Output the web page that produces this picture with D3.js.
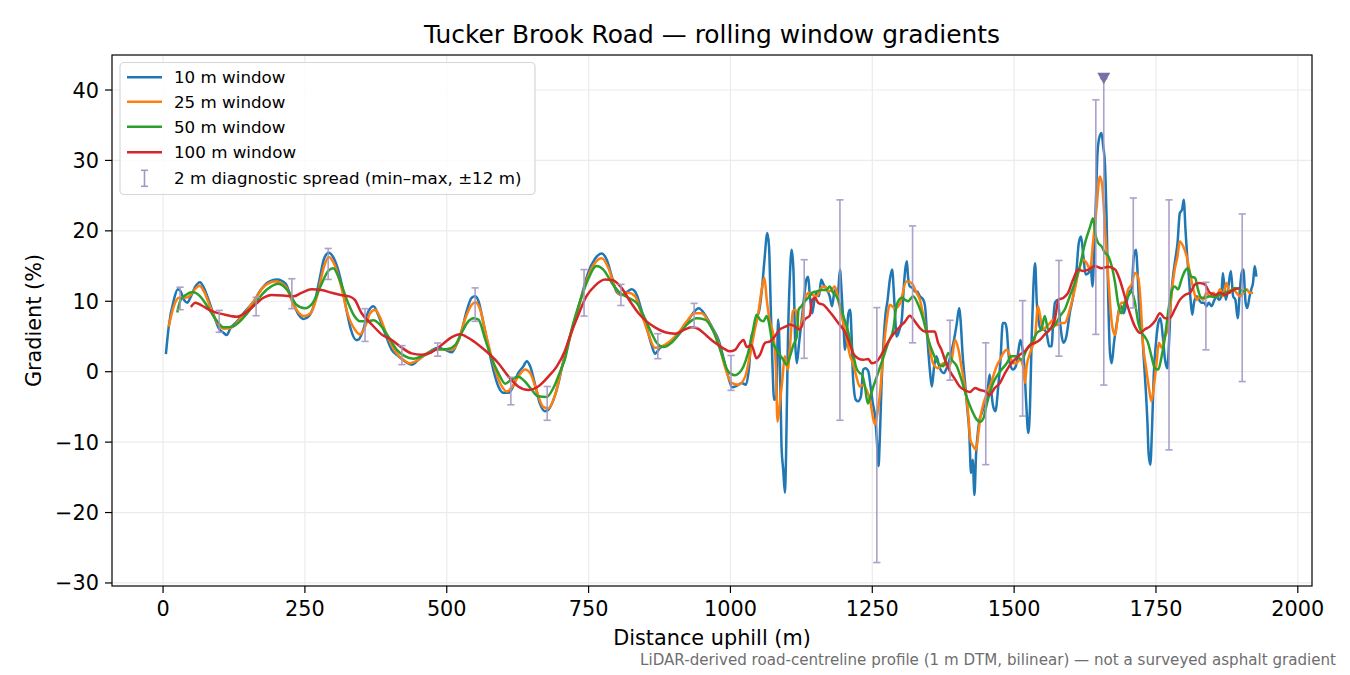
<!DOCTYPE html>
<html>
<head>
<meta charset="utf-8">
<script src="https://cdn.jsdelivr.net/npm/d3@7"></script>
<style>
  html, body { margin: 0; padding: 0; background: #fff; }
  svg { display: block; font-family: "DejaVu Sans", sans-serif; }
</style>
</head>
<body>
<svg id="chart" width="1350" height="675"></svg>
<script>
// distance (m), gradient (%) pairs
const win10 = [[5,2.5],[10,6.4],[19,10.2],[26,11.7],[31,11.4],[37,10.2],[43,9.8],[48,10.5],[57,12.1],[65,12.7],[72,11.9],[81,10.0],[90,7.9],[98,6.2],[107,5.5],[112,5.2],[119,6.2],[130,7.1],[145,8.6],[160,10.0],[172,11.6],[187,12.8],[201,13.1],[216,12.5],[227,10.2],[239,8.1],[248,7.5],[257,7.9],[266,9.5],[275,12.8],[284,16.1],[292,16.9],[301,16.1],[313,13.1],[322,9.3],[331,6.0],[340,4.5],[345,4.6],[353,6.0],[362,8.6],[371,9.3],[379,8.1],[391,5.5],[403,3.1],[415,2.2],[426,1.5],[438,1.0],[450,1.7],[462,2.4],[473,3.0],[485,3.4],[497,3.1],[509,2.75],[517,3.8],[526,5.7],[535,8.6],[544,10.5],[550,10.7],[556,10.0],[564,7.15],[573,3.6],[582,0.3],[591,-2.1],[600,-3.0],[609,-3.0],[617,-2.1],[626,-0.2],[635,0.76],[641,1.5],[647,0.76],[655,-1.6],[664,-4.5],[673,-5.6],[679,-5.4],[688,-4.0],[697,-1.6],[702,0.3],[714,4.1],[726,7.4],[738,10.9],[749,14.0],[761,16.0],[773,16.8],[782,15.9],[791,13.5],[799,11.4],[808,10.9],[817,11.3],[826,11.7],[835,10.9],[843,8.8],[852,6.4],[861,3.8],[867,2.55],[876,3.4],[887,3.8],[899,4.5],[911,5.5],[923,6.9],[934,8.3],[944,9.0],[955,8.1],[967,6.4],[979,4.5],[987,2.2],[996,-0.7],[1003,-2.2],[1011,-2.0],[1020,-1.6],[1027,-1.85],[1033,0.75],[1037,5.0],[1042,6.0],[1046,7.6],[1051,8.8],[1056,12.1],[1060,15.9],[1065,19.7],[1068,17.8],[1071,9.3],[1074,1.2],[1077,-4.0],[1081,-3.5],[1084,7.4],[1087,2.2],[1090,-10.6],[1093,-13.9],[1096,-17.2],[1098,-12.0],[1101,3.1],[1105,14.0],[1108,17.3],[1111,14.5],[1114,4.5],[1117,1.2],[1121,4.1],[1125,6.9],[1130,10.7],[1134,13.1],[1137,13.5],[1140,10.7],[1144,8.3],[1148,10.2],[1152,11.2],[1156,10.7],[1160,13.1],[1164,12.4],[1170,11.6],[1175,10.7],[1179,9.3],[1184,11.6],[1189,10.7],[1193,14.5],[1196,11.2],[1199,6.9],[1202,3.1],[1205,5.5],[1208,8.3],[1211,8.8],[1214,4.1],[1216,-0.7],[1221,-4.0],[1225,-4.2],[1230,-3.5],[1234,0.3],[1238,0.5],[1243,0.05],[1247,-2.1],[1251,-4.5],[1255,-6.4],[1258,-9.7],[1261,-13.4],[1263,-10.1],[1266,-2.6],[1270,4.5],[1273,7.9],[1277,10.2],[1281,13.1],[1285,14.5],[1289,9.75],[1293,5.0],[1298,6.0],[1302,7.4],[1306,12.6],[1311,15.7],[1313,13.5],[1316,12.1],[1321,11.9],[1325,11.4],[1329,11.4],[1334,10.7],[1340,10.2],[1343,9.3],[1346,6.0],[1349,2.65],[1352,-0.2],[1355,-2.1],[1359,0.76],[1363,2.2],[1368,0.76],[1372,0.05],[1376,-0.2],[1381,0.5],[1386,1.7],[1390,3.1],[1394,4.5],[1399,6.9],[1403,9.0],[1406,6.9],[1409,2.65],[1413,-1.1],[1417,-4.9],[1421,-8.7],[1424,-14.4],[1427,-12.5],[1430,-17.5],[1433,-11.6],[1436,-8.7],[1439,-6.8],[1443,-5.9],[1447,-4.9],[1451,-4.0],[1454,-2.1],[1457,-0.4],[1460,-3.0],[1463,-4.9],[1467,-5.6],[1472,-2.1],[1476,1.7],[1480,6.9],[1484,6.9],[1487,6.0],[1490,2.65],[1494,0.76],[1498,0.3],[1503,0.76],[1507,2.65],[1511,4.5],[1515,3.1],[1518,0.76],[1521,-4.0],[1525,-8.7],[1528,-4.9],[1531,5.0],[1534,12.1],[1537,15.4],[1540,9.75],[1543,7.4],[1545,6.4],[1548,6.0],[1552,6.0],[1557,5.5],[1562,3.6],[1566,3.6],[1569,7.4],[1572,9.8],[1577,10.2],[1581,6.9],[1587,4.1],[1592,5.0],[1598,8.3],[1604,10.7],[1610,14.5],[1614,18.3],[1618,19.2],[1622,16.4],[1626,13.8],[1631,14.0],[1635,15.0],[1638,12.1],[1641,16.9],[1644,24.0],[1647,31.1],[1650,33.2],[1654,33.9],[1657,32.0],[1660,29.6],[1663,21.6],[1666,9.8],[1669,2.65],[1672,1.2],[1676,4.1],[1681,6.9],[1685,8.8],[1689,9.3],[1693,8.3],[1698,9.8],[1702,11.2],[1707,11.7],[1711,16.4],[1715,17.3],[1717,15.0],[1720,9.8],[1723,6.4],[1726,5.0],[1729,1.2],[1732,-2.55],[1735,-7.3],[1737,-11.6],[1740,-13.2],[1743,-8.2],[1746,-0.65],[1750,4.1],[1754,6.9],[1758,7.6],[1762,5.0],[1766,1.7],[1770,0.5],[1773,4.1],[1776,9.8],[1780,13.5],[1784,15.9],[1788,18.3],[1792,22.5],[1796,23.0],[1799,24.4],[1802,20.2],[1805,16.4],[1808,13.5],[1811,10.2],[1814,8.1],[1817,9.8],[1822,10.7],[1826,10.2],[1830,9.8],[1835,9.8],[1839,9.3],[1843,9.8],[1848,9.3],[1853,10.2],[1857,10.7],[1861,10.2],[1865,10.7],[1868,14.0],[1873,10.2],[1877,11.7],[1882,14.3],[1886,10.7],[1890,10.2],[1894,7.6],[1898,11.7],[1901,14.0],[1904,14.5],[1908,9.8],[1911,9.05],[1915,10.7],[1918,11.7],[1921,12.6],[1924,15.0],[1927,13.5]];

const win25 = [[10,6.4],[19,9.3],[28,10.5],[37,10.5],[46,10.7],[55,11.6],[64,12.2],[72,11.4],[84,9.0],[96,6.9],[107,6.1],[119,6.2],[137,7.6],[160,10.0],[178,12.1],[198,12.8],[216,12.1],[230,9.5],[248,7.9],[260,8.3],[272,10.9],[284,15.0],[292,16.3],[301,15.4],[313,12.4],[325,8.3],[338,6.0],[347,5.3],[356,6.4],[365,8.3],[374,8.8],[382,7.8],[394,5.3],[409,2.9],[423,1.7],[435,1.2],[450,1.7],[465,2.6],[479,3.1],[494,3.2],[509,3.1],[520,4.3],[532,7.4],[544,9.5],[551,9.85],[559,8.8],[570,5.0],[582,1.2],[594,-1.6],[606,-2.8],[614,-2.3],[626,-0.7],[638,0.3],[647,-0.2],[658,-2.6],[670,-5.0],[679,-5.2],[691,-3.3],[702,0.3],[714,3.8],[726,7.4],[738,10.7],[749,13.5],[761,15.4],[773,16.1],[785,14.7],[796,12.1],[808,10.9],[820,11.2],[832,10.7],[843,8.3],[855,5.5],[867,3.4],[879,3.6],[893,4.3],[908,5.5],[923,7.15],[937,8.3],[949,8.3],[964,6.7],[979,4.1],[990,0.76],[1002,-1.6],[1014,-1.85],[1026,-0.7],[1034,2.2],[1043,6.0],[1049,8.3],[1055,11.6],[1060,13.3],[1064,10.2],[1070,6.9],[1075,5.5],[1080,0.75],[1083,-7.1],[1087,-4.5],[1091,-1.6],[1096,2.2],[1101,0.3],[1105,3.6],[1110,8.6],[1115,8.8],[1121,6.0],[1127,7.4],[1131,10.2],[1138,11.2],[1144,10.9],[1152,10.7],[1160,11.9],[1167,12.1],[1172,11.4],[1178,11.6],[1184,12.1],[1190,10.2],[1196,7.9],[1203,5.5],[1211,2.2],[1216,1.2],[1222,-0.7],[1228,-2.1],[1234,-1.85],[1240,-2.6],[1246,-4.0],[1252,-6.8],[1255,-7.5],[1259,-5.9],[1263,-3.5],[1269,2.2],[1275,6.9],[1281,9.5],[1290,9.0],[1299,9.7],[1310,12.8],[1319,12.6],[1328,11.2],[1334,10.2],[1340,7.9],[1349,4.5],[1357,1.2],[1366,0.5],[1375,1.2],[1384,0.76],[1390,1.7],[1396,4.5],[1402,3.1],[1407,0.76],[1413,-2.1],[1419,-5.9],[1423,-9.7],[1428,-10.6],[1433,-11.1],[1437,-8.7],[1441,-6.3],[1446,-4.5],[1451,-3.3],[1457,-2.1],[1463,-0.7],[1469,0.76],[1475,1.7],[1481,2.65],[1487,3.1],[1493,2.2],[1498,1.2],[1504,1.2],[1510,1.7],[1516,0.76],[1519,-1.6],[1522,0.76],[1528,2.65],[1537,5.0],[1542,9.3],[1547,7.4],[1551,6.0],[1557,6.4],[1563,6.9],[1569,7.4],[1575,6.6],[1581,6.9],[1589,6.9],[1598,8.8],[1607,11.7],[1616,15.0],[1622,15.9],[1628,15.4],[1634,14.5],[1639,18.3],[1645,23.0],[1651,27.7],[1655,26.6],[1660,20.6],[1665,14.5],[1669,9.8],[1673,6.4],[1678,5.2],[1683,7.9],[1689,9.8],[1695,9.8],[1701,11.7],[1707,12.4],[1713,14.0],[1719,13.3],[1723,9.8],[1727,4.1],[1733,0.3],[1738,-2.55],[1742,-4.2],[1747,-1.6],[1751,1.2],[1755,4.1],[1760,3.4],[1766,5.0],[1772,6.4],[1777,10.7],[1783,14.5],[1788,16.4],[1792,18.5],[1798,17.8],[1804,16.4],[1810,14.0],[1816,11.7],[1822,10.2],[1827,10.7],[1833,10.2],[1839,11.2],[1845,10.7],[1851,11.2],[1857,10.7],[1863,11.7],[1868,10.7],[1874,12.6],[1880,11.2],[1886,11.7],[1892,11.2],[1898,10.7],[1904,11.2],[1910,11.7],[1915,11.2],[1921,11.2]];

const win50 = [[25,8.4],[31,10.2],[40,10.9],[52,11.3],[64,10.8],[78,9.3],[93,7.4],[107,6.3],[122,6.4],[141,7.6],[162,9.7],[182,11.6],[203,12.5],[221,11.4],[235,9.5],[250,9.0],[264,9.8],[279,12.4],[291,14.3],[300,14.7],[311,13.1],[324,10.2],[338,7.8],[347,7.15],[359,7.15],[371,7.3],[382,6.7],[397,5.0],[412,3.1],[426,2.2],[441,1.85],[456,2.2],[470,2.75],[485,3.2],[500,3.2],[515,3.8],[526,5.5],[538,7.15],[547,7.6],[556,7.4],[567,4.8],[579,1.9],[591,-0.2],[603,-1.7],[614,-1.1],[626,-0.7],[638,-1.4],[650,-2.6],[661,-3.5],[676,-3.6],[688,-2.3],[700,0.05],[708,1.7],[720,6.0],[735,10.0],[749,13.1],[764,15.0],[776,14.5],[791,12.6],[805,11.2],[820,10.5],[835,9.75],[846,8.1],[858,6.0],[870,4.1],[882,3.5],[896,4.1],[911,5.5],[926,6.9],[940,7.6],[955,7.4],[970,5.7],[984,2.65],[996,0.05],[1008,-0.5],[1015,-0.2],[1023,0.75],[1031,2.65],[1040,6.0],[1046,8.1],[1052,7.4],[1058,7.15],[1064,7.9],[1068,6.9],[1073,4.5],[1078,3.6],[1085,2.65],[1093,1.7],[1099,1.0],[1105,2.2],[1111,3.8],[1117,5.0],[1120,8.8],[1125,9.3],[1131,10.0],[1137,10.5],[1144,11.2],[1152,11.4],[1161,11.6],[1169,11.6],[1175,12.1],[1181,11.2],[1187,10.7],[1193,9.5],[1199,7.9],[1205,6.4],[1211,4.5],[1216,2.65],[1222,0.5],[1228,-0.2],[1232,-0.4],[1237,-2.1],[1242,-4.5],[1246,-3.7],[1252,-2.1],[1258,-0.7],[1263,0.5],[1269,1.9],[1278,4.1],[1287,6.0],[1293,9.5],[1302,10.5],[1308,10.2],[1313,10.0],[1322,10.7],[1331,9.5],[1340,7.4],[1349,4.5],[1357,2.65],[1366,1.2],[1375,0.76],[1384,2.65],[1390,1.7],[1399,0.76],[1407,-1.1],[1416,-3.5],[1425,-5.4],[1434,-6.8],[1440,-7.1],[1446,-6.6],[1451,-4.9],[1457,-3.0],[1463,-1.6],[1469,-0.7],[1478,0.3],[1487,1.2],[1495,2.2],[1504,2.2],[1513,1.7],[1522,3.1],[1531,4.1],[1540,5.5],[1548,6.0],[1554,7.9],[1560,6.0],[1569,6.3],[1581,7.9],[1589,8.8],[1598,10.7],[1607,12.6],[1616,15.0],[1625,18.3],[1634,20.6],[1639,21.8],[1644,19.2],[1648,18.3],[1654,17.8],[1660,16.9],[1666,16.4],[1672,15.0],[1678,12.6],[1683,9.8],[1689,8.3],[1695,9.8],[1701,10.7],[1707,11.4],[1713,9.8],[1719,6.9],[1725,5.5],[1730,5.0],[1736,4.1],[1742,2.2],[1748,0.5],[1754,0.3],[1760,2.2],[1766,5.0],[1772,8.8],[1777,11.2],[1783,12.1],[1789,11.7],[1795,13.1],[1801,14.3],[1806,14.7],[1812,13.5],[1819,13.3],[1824,11.7],[1830,10.5],[1836,10.5],[1845,10.7],[1854,10.6],[1863,10.9],[1871,11.2],[1880,11.4],[1889,11.9],[1898,11.7],[1904,11.4],[1910,11.7]];

const win100 = [[49,9.2],[57,9.8],[68,9.4],[86,8.6],[109,8.1],[130,7.8],[144,8.3],[162,9.5],[177,10.5],[191,10.9],[215,10.8],[230,10.7],[244,11.2],[262,11.7],[279,11.6],[297,11.2],[313,10.9],[328,10.7],[338,10.2],[350,8.3],[368,6.7],[385,5.3],[403,4.5],[421,3.4],[438,2.6],[456,2.4],[473,2.75],[491,3.8],[509,4.9],[523,5.3],[538,4.8],[556,3.8],[573,2.65],[591,1.2],[609,-0.7],[626,-2.1],[644,-2.6],[661,-2.1],[679,-0.7],[694,0.76],[708,2.9],[717,5.0],[732,8.1],[746,10.7],[761,12.2],[779,13.1],[793,13.0],[808,11.9],[823,10.0],[838,8.3],[852,7.15],[867,6.3],[885,5.6],[902,5.4],[920,6.0],[932,6.3],[943,6.1],[958,5.1],[973,4.1],[990,3.2],[999,2.9],[1008,3.1],[1017,4.1],[1023,4.5],[1029,3.5],[1037,3.8],[1046,1.9],[1052,2.4],[1061,4.1],[1070,4.3],[1078,5.0],[1087,6.0],[1096,6.35],[1105,6.7],[1114,6.4],[1122,6.0],[1131,7.4],[1140,8.0],[1144,10.2],[1149,10.5],[1155,9.75],[1164,9.5],[1172,8.8],[1181,7.9],[1190,6.9],[1199,6.0],[1208,4.5],[1216,2.65],[1225,1.9],[1234,1.7],[1243,1.8],[1249,1.2],[1258,1.45],[1266,2.4],[1275,3.8],[1284,5.0],[1290,5.6],[1299,6.4],[1308,7.15],[1316,7.95],[1325,7.15],[1334,6.2],[1343,5.7],[1352,5.7],[1360,5.7],[1366,4.1],[1372,3.1],[1378,1.7],[1387,0.05],[1396,-1.1],[1404,-2.1],[1413,-2.6],[1422,-2.9],[1431,-2.3],[1440,-2.6],[1449,-2.8],[1457,-3.3],[1466,-2.3],[1475,-1.6],[1484,-0.2],[1493,1.0],[1501,1.7],[1510,2.4],[1519,2.9],[1528,3.8],[1537,4.1],[1545,4.5],[1554,5.3],[1563,6.0],[1572,7.5],[1578,10.2],[1587,10.5],[1595,11.2],[1604,13.1],[1613,14.5],[1622,14.3],[1631,14.5],[1642,15.0],[1654,14.7],[1666,14.9],[1678,14.5],[1686,13.1],[1695,10.7],[1704,8.3],[1713,6.4],[1722,5.5],[1730,6.0],[1739,6.4],[1748,7.15],[1757,8.3],[1766,7.6],[1774,7.6],[1783,8.8],[1792,10.2],[1801,10.9],[1810,11.2],[1819,12.4],[1827,12.6],[1836,12.4],[1845,11.2],[1854,10.9],[1863,11.2],[1871,10.9],[1880,11.3],[1889,11.7],[1898,11.9]];

// 2 m diagnostic spread (min–max within ±12 m)
const spreadAt = [30,99,164,227,291,356,421,484,550,613,677,742,807,872,936,1001,1130,1193,1258,1321,1387,1450,1515,1579,1644,1710,1773,1838,1902];
const spreadLo = [8.8,5.6,7.95,8.95,13.1,4.3,1.0,2.2,7.15,-4.7,-6.9,7.9,9.4,1.85,6.3,-2.65,1.9,-6.9,-27.1,4.1,-1.2,-13.2,-6.3,2.2,5.3,9.05,-11.1,3.1,-1.4];
const spreadHi = [12.0,8.7,10.56,13.2,17.5,8.95,3.7,4.07,11.9,-0.8,-2.1,14.5,12.4,5.4,9.7,2.3,15.9,24.4,9.1,20.7,7.3,4.1,10.1,15.8,38.6,24.67,24.4,12.7,22.4];

// steepest 2 m point
const peakAt = 1658, peakLo = -1.9, peakHi = 41.6;

const xTicks = [0, 250, 500, 750, 1000, 1250, 1500, 1750, 2000];
const yTicks = [-30, -20, -10, 0, 10, 20, 30, 40];

const series = [
  { name: '10 m window', data: win10, color: '#1f77b4' },
  { name: '25 m window', data: win25, color: '#ff7f0e' },
  { name: '50 m window', data: win50, color: '#2ca02c' },
  { name: '100 m window', data: win100, color: '#d62728' },
];

const m = { left: 112, right: 1312, top: 55, bottom: 586 };
const svg = d3.select('#chart');

const x = d3.scaleLinear().domain([-90, 2025]).range([m.left, m.right]);
const y = d3.scaleLinear().domain([-30.43, 44.97]).range([m.bottom, m.top]);
const fmt = (v) => (v < 0 ? '\u2212' + Math.abs(v) : '' + v);

svg.append('defs').append('clipPath').attr('id', 'plot')
  .append('rect')
  .attr('x', m.left).attr('y', m.top)
  .attr('width', m.right - m.left).attr('height', m.bottom - m.top);

//网格
const grid = svg.append('g').attr('stroke', '#ebebeb').attr('stroke-width', 1.2);
grid.selectAll('.gx').data(xTicks).join('line')
  .attr('x1', (d) => x(d)).attr('x2', (d) => x(d))
  .attr('y1', m.top).attr('y2', m.bottom);
grid.selectAll('.gy').data(yTicks).join('line')
  .attr('x1', m.left).attr('x2', m.right)
  .attr('y1', (d) => y(d)).attr('y2', (d) => y(d));

//折线
const line = d3.line().x((d) => x(d[0])).y((d) => y(d[1])).curve(d3.curveMonotoneX);
const plot = svg.append('g').attr('clip-path', 'url(#plot)');
plot.selectAll('path.series').data(series).join('path')
  .attr('class', 'series')
  .attr('d', (d) => line(d.data))
  .attr('fill', 'none')
  .attr('stroke', (d) => d.color)
  .attr('stroke-width', 2.5)
  .attr('stroke-linejoin', 'round');

//误差线
const barColor = '#a497c5';
const cap = 3.6;
const bars = d3.range(spreadAt.length).map((i) => ({ at: spreadAt[i], lo: spreadLo[i], hi: spreadHi[i] }));
bars.push({ at: peakAt, lo: peakLo, hi: peakHi });
const eb = plot.append('g').attr('stroke', barColor).attr('stroke-width', 1.6).attr('opacity', 0.9);
eb.selectAll('line.v').data(bars).join('line')
  .attr('x1', (d) => x(d.at)).attr('x2', (d) => x(d.at))
  .attr('y1', (d) => y(d.lo)).attr('y2', (d) => y(d.hi));
eb.selectAll('line.lo').data(bars).join('line')
  .attr('x1', (d) => x(d.at) - cap).attr('x2', (d) => x(d.at) + cap)
  .attr('y1', (d) => y(d.lo)).attr('y2', (d) => y(d.lo));
eb.selectAll('line.hi').data(bars).join('line')
  .attr('x1', (d) => x(d.at) - cap).attr('x2', (d) => x(d.at) + cap)
  .attr('y1', (d) => y(d.hi)).attr('y2', (d) => y(d.hi));

//峰值标记
const px = x(peakAt), py = y(peakHi);
svg.append('path')
  .attr('d', `M${px - 6.5},${py - 6} L${px + 6.5},${py - 6} L${px},${py + 5.5} Z`)
  .attr('fill', '#7b6fa6');

//坐标轴
const axes = svg.append('g').attr('stroke', '#000').attr('stroke-width', 1.2);
axes.append('rect')
  .attr('x', m.left).attr('y', m.top)
  .attr('width', m.right - m.left).attr('height', m.bottom - m.top)
  .attr('fill', 'none');
axes.selectAll('.tx').data(xTicks).join('line')
  .attr('x1', (d) => x(d)).attr('x2', (d) => x(d))
  .attr('y1', m.bottom).attr('y2', m.bottom + 7);
axes.selectAll('.ty').data(yTicks).join('line')
  .attr('x1', m.left - 7).attr('x2', m.left)
  .attr('y1', (d) => y(d)).attr('y2', (d) => y(d));

const txt = svg.append('g').attr('fill', '#000');
txt.selectAll('.lx').data(xTicks).join('text')
  .attr('x', (d) => x(d)).attr('y', m.bottom + 30)
  .attr('text-anchor', 'middle').attr('font-size', 20.8)
  .text(fmt);
txt.selectAll('.ly').data(yTicks).join('text')
  .attr('x', m.left - 13).attr('y', (d) => y(d) + 7.5)
  .attr('text-anchor', 'end').attr('font-size', 20.8)
  .text(fmt);

txt.append('text')
  .attr('x', (m.left + m.right) / 2).attr('y', 42.5)
  .attr('text-anchor', 'middle').attr('font-size', 24.9)
  .text('Tucker Brook Road \u2014 rolling window gradients');
txt.append('text')
  .attr('x', (m.left + m.right) / 2).attr('y', 645)
  .attr('text-anchor', 'middle').attr('font-size', 20.8)
  .text('Distance uphill (m)');
txt.append('text')
  .attr('transform', `translate(41,${(m.top + m.bottom) / 2}) rotate(-90)`)
  .attr('text-anchor', 'middle').attr('font-size', 20.8)
  .text('Gradient (%)');
svg.append('text')
  .attr('x', 1336).attr('y', 665)
  .attr('text-anchor', 'end').attr('font-size', 15.1).attr('fill', '#6e6e6e')
  .text('LiDAR-derived road-centreline profile (1 m DTM, bilinear) \u2014 not a surveyed asphalt gradient');

//图例
const lg = svg.append('g');
lg.append('rect')
  .attr('x', 120).attr('y', 62.5).attr('width', 415).attr('height', 132)
  .attr('rx', 4).attr('fill', '#fff').attr('fill-opacity', 0.85)
  .attr('stroke', '#d6d6d6').attr('stroke-width', 1.2);
const rowY = [77.3, 101.7, 126.7, 152.3, 178.3];
series.forEach((s, i) => {
  lg.append('line')
    .attr('x1', 127).attr('x2', 162).attr('y1', rowY[i]).attr('y2', rowY[i])
    .attr('stroke', s.color).attr('stroke-width', 2.5);
  lg.append('text')
    .attr('x', 174).attr('y', rowY[i] + 6).attr('font-size', 16.7)
    .text(s.name);
});
const hy = rowY[4];
const hb = lg.append('g').attr('stroke', barColor).attr('stroke-width', 1.6);
hb.append('line').attr('x1', 144.5).attr('x2', 144.5).attr('y1', hy - 8).attr('y2', hy + 8);
hb.append('line').attr('x1', 141).attr('x2', 148).attr('y1', hy - 8).attr('y2', hy - 8);
hb.append('line').attr('x1', 141).attr('x2', 148).attr('y1', hy + 8).attr('y2', hy + 8);
lg.append('text')
  .attr('x', 174).attr('y', hy + 6).attr('font-size', 16.7)
  .text('2 m diagnostic spread (min\u2013max, \u00b112 m)');
</script>
</body>
</html>
